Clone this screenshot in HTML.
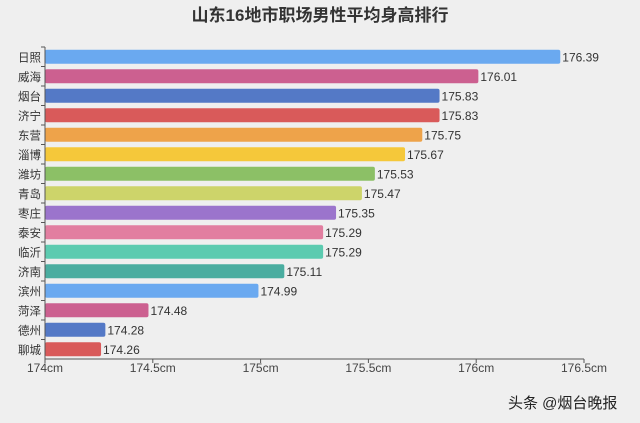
<!DOCTYPE html>
<html><head><meta charset="utf-8">
<style>
html,body{margin:0;padding:0;background:#efefef;}
svg{display:block;font-family:"Liberation Sans","Noto Sans CJK SC",sans-serif;}
</style></head>
<body>
<svg id="chart" width="640" height="423" viewBox="0 0 640 423">
<rect width="640" height="423" fill="#efefef"/>
<text x="320" y="21" text-anchor="middle" font-size="17" font-weight="bold" fill="#333">山东16地市职场男性平均身高排行</text>
<g id="bars"></g>
<g id="axis"></g>
<text x="508" y="408" font-size="15" fill="#222">头条 @烟台晚报</text>
</svg>
<script>
const cities=["日照","威海","烟台","济宁","东营","淄博","潍坊","青岛","枣庄","泰安","临沂","济南","滨州","菏泽","德州","聊城"];
const heights=[176.39,176.01,175.83,175.83,175.75,175.67,175.53,175.47,175.35,175.29,175.29,175.11,174.99,174.48,174.28,174.26];
const colors=["#6aa9f0","#cc6090","#5479c6","#d95a5a","#eea34a","#f5c83a","#8cc066","#cdd46a","#9b74cc","#e27ea0","#5ccbb0","#4aada0","#6aa9f0","#cc6090","#5479c6","#d95a5a"];
const ticks=[174,174.5,175,175.5,176,176.5];
const tickLabels=["174cm","174.5cm","175cm","175.5cm","176cm","176.5cm"];
const NS="http://www.w3.org/2000/svg";
const x=v=>45+(v-174)*215.6;
const y0=47,step=19.5,bh=14;
const yc=i=>y0+i*step+step/2;
function mk(t,a){const e=document.createElementNS(NS,t);for(const k in a)e.setAttribute(k,a[k]);return e;}
const bars=document.getElementById('bars'),axis=document.getElementById('axis');
cities.forEach((c,i)=>{
  const r=mk('rect',{x:x(174),y:yc(i)-bh/2,width:x(heights[i])-x(174),height:bh,rx:2,fill:colors[i]});
  
  
  bars.appendChild(r);
  const l=mk('text',{x:x(heights[i])+2,y:yc(i)+4.5,'font-size':12,fill:'#333'});
  l.textContent=heights[i].toFixed(2);
  
  
  bars.appendChild(l);
  const n=mk('text',{x:41,y:yc(i)+4.5,'text-anchor':'end','font-size':11.5,fill:'#333'});
  n.textContent=c;
  
  
  bars.appendChild(n);
  const tk=mk('line',{x1:41,x2:45,y1:y0+i*step,y2:y0+i*step,stroke:'#555'});
  
  
  axis.appendChild(tk);
});
const yl=mk('line',{x1:45,x2:45,y1:y0,y2:y0+16*step,stroke:'#555'});


axis.appendChild(yl);
const ay=y0+16*step;
const xl=mk('line',{x1:45,x2:x(176.5),y1:ay,y2:ay,stroke:'#555'});


axis.appendChild(xl);
ticks.forEach((t,i)=>{
  const tl=mk('line',{x1:x(t),x2:x(t),y1:ay,y2:ay+4,stroke:'#555'});
  
  
  axis.appendChild(tl);
  const tx=mk('text',{x:x(t),y:ay+13,'text-anchor':'middle','font-size':12,fill:'#444'});
  tx.textContent=tickLabels[i];
  
  
  axis.appendChild(tx);
});
</script>
</body></html>
